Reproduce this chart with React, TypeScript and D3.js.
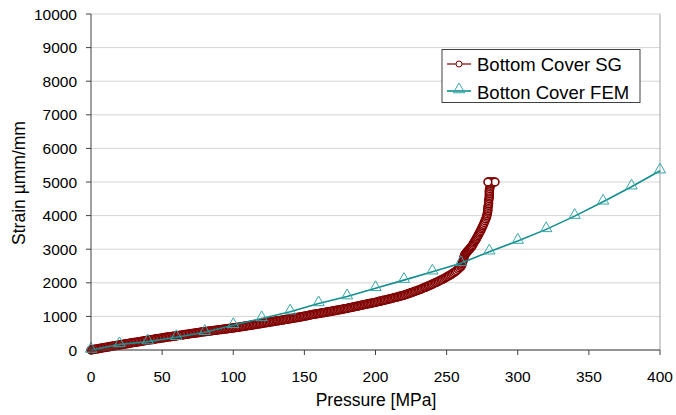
import React from "react";
import * as d3 from "d3";

const xTicks = [0, 50, 100, 150, 200, 250, 300, 350, 400];
const yTicks = [0, 1000, 2000, 3000, 4000, 5000, 6000, 7000, 8000, 9000, 10000];

const femPressure = [0, 20, 40, 60, 80, 100, 120, 140, 160, 180, 200, 220, 240, 260, 280, 300, 320, 340, 360, 380, 400];
const femStrain = [0, 165, 250, 380, 530, 735, 940, 1140, 1385, 1590, 1835, 2080, 2330, 2585, 2925, 3245, 3590, 3985, 4410, 4860, 5335];

// SG readings, loading part (pressure 0..260 MPa, one reading per MPa)
const sgStrainLoading = [
  0, 8, 18, 26, 32, 38, 44, 54, 62, 70, 76, 82, 88, 98, 106, 112, 118, 128, 136, 142,
  150, 157, 162, 172, 180, 184, 190, 200, 208, 216, 222, 226, 232, 242, 250, 254, 260, 270, 278, 285,
  290, 299, 306, 310, 316, 326, 334, 338, 344, 354, 362, 366, 370, 379, 386, 390, 394, 403, 410, 414,
  420, 428, 435, 440, 444, 453, 461, 465, 470, 479, 486, 490, 495, 504, 511, 514, 519, 528, 535, 540,
  545, 552, 558, 561, 565, 573, 580, 583, 587, 595, 602, 605, 609, 617, 624, 627, 631, 639, 646, 650,
  655, 663, 670, 674, 679, 688, 696, 700, 705, 714, 722, 727, 732, 742, 750, 755, 760, 770, 778, 783,
  788, 797, 806, 811, 816, 826, 834, 839, 844, 854, 862, 867, 872, 882, 890, 895, 900, 910, 918, 924,
  930, 939, 947, 952, 958, 968, 977, 982, 988, 998, 1007, 1012, 1019, 1030, 1040, 1052, 1060, 1064, 1070, 1078,
  1084, 1094, 1102, 1107, 1113, 1123, 1132, 1137, 1143, 1153, 1162, 1168, 1174, 1185, 1194, 1200, 1206, 1217, 1226, 1232,
  1238, 1250, 1260, 1267, 1274, 1286, 1296, 1302, 1310, 1322, 1332, 1338, 1346, 1359, 1370, 1375, 1382, 1394, 1404, 1410,
  1418, 1431, 1442, 1449, 1458, 1471, 1482, 1489, 1498, 1511, 1522, 1530, 1540, 1554, 1566, 1574, 1584, 1598, 1610, 1618,
  1628, 1646, 1662, 1674, 1688, 1706, 1722, 1734, 1748, 1766, 1782, 1796, 1812, 1833, 1852, 1866, 1882, 1903, 1922, 1940,
  1958, 1981, 2002, 2019, 2038, 2061, 2082, 2101, 2122, 2148, 2172, 2194, 2218, 2244, 2272, 2298, 2328, 2362, 2402, 2440,
  2480,
];
const sgPressureLoading = sgStrainLoading.map((_, i) => i);

// SG readings, yielding part
const sgPressureYield = [
  260.5, 261, 261.2, 261.5, 261.8, 262, 262.2, 262.5, 262.8, 263, 263.5, 264, 264.5, 265, 265.5, 266, 266.5, 267, 267.5, 268,
  268.5, 269, 269.5, 270, 270.5, 271, 271.5, 272, 272.5, 273, 273.5, 274, 274.5, 275, 275.5, 276, 276.5, 277, 277.5, 278,
  278.3, 278.5, 278.8, 279, 279, 279, 279.3, 279.5, 279.5, 279.5, 279.8, 280, 280, 280, 280, 280, 280.3, 280.5, 280.8, 281,
  281, 280, 282, 283, 284, 279,
];
const sgStrainYield = [
  2520, 2560, 2610, 2650, 2690, 2720, 2760, 2800, 2830, 2850, 2880, 2900, 2930, 2950, 2975, 3000, 3025, 3050, 3075, 3100,
  3140, 3180, 3215, 3250, 3285, 3320, 3360, 3400, 3440, 3480, 3520, 3560, 3605, 3650, 3695, 3740, 3795, 3850, 3900, 3950,
  4000, 4050, 4100, 4150, 4200, 4250, 4300, 4350, 4400, 4450, 4500, 4550, 4600, 4650, 4700, 4750, 4800, 4850, 4900, 4950,
  5000, 5000, 5000, 5000, 5000, 5000,
];

const legendLabels = ["Bottom Cover SG", "Botton Cover FEM"];

const W = 676;
const H = 415;
const left = 91;
const right = 660;
const top = 14;
const bottom = 350;
const font = "'Liberation Sans', Arial, sans-serif";
const sgColor = "#800000";
const femColor = "#118f8f";
const femMarker = "#3AA6A6";

export default function App() {
  const x = d3.scaleLinear().domain([0, 400]).range([left, right]);
  const y = d3.scaleLinear().domain([0, 10000]).range([bottom, top]);

  const sgP = [...sgPressureLoading, ...sgPressureYield];
  const sgS = [...sgStrainLoading, ...sgStrainYield];
  const sg = sgP.map((p, i) => [p, sgS[i]] as [number, number]);
  const fem = femPressure.map((p, i) => [p, femStrain[i]] as [number, number]);
  const line = d3.line<[number, number]>().x((d) => x(d[0])).y((d) => y(d[1]));
  const tri = d3.symbol().type(d3.symbolTriangle).size(55)() as string;

  return (
    <svg width={W} height={H} style={{ position: "absolute", left: 0, top: 0, background: "#fff" }} fontFamily={font}>
      <rect x={0} y={0} width={W} height={H} fill="#fff" />
      {yTicks.map((t) => (
        <line key={"g" + t} x1={left} x2={right} y1={y(t)} y2={y(t)} stroke="#d4d4d4" strokeWidth={1} />
      ))}
      <line x1={right} x2={right} y1={top} y2={bottom} stroke="#a0a0a0" strokeWidth={1} />
      {/* SG */}
      <path d={line(sg) || ""} fill="none" stroke={sgColor} strokeWidth={1.5} />
      {sg.map((d, i) => (
        <circle key={"s" + i} cx={x(d[0])} cy={y(d[1])} r={3.9} fill="#fff" stroke={sgColor} strokeWidth={1.6} />
      ))}
      {/* FEM */}
      <path d={line(fem) || ""} fill="none" stroke={femColor} strokeWidth={1.6} />
      {fem.map((d, i) => (
        <path key={"f" + i} d={tri} transform={`translate(${x(d[0])},${y(d[1]) - 1})`} fill="none" stroke={femMarker} strokeWidth={1} />
      ))}
      {/* axes */}
      <line x1={left} x2={left} y1={top} y2={bottom} stroke="#404040" strokeWidth={1} />
      <line x1={left} x2={right} y1={bottom} y2={bottom} stroke="#404040" strokeWidth={1} />
      {yTicks.map((t) => (
        <g key={"yt" + t}>
          <line x1={left - 5} x2={left} y1={y(t)} y2={y(t)} stroke="#404040" />
          <text x={left - 14} y={y(t) + 5.5} textAnchor="end" fontSize={15.5} fill="#000">
            {t}
          </text>
        </g>
      ))}
      {xTicks.map((t) => (
        <g key={"xt" + t}>
          <line x1={x(t)} x2={x(t)} y1={bottom} y2={bottom + 5} stroke="#404040" />
          <text x={x(t)} y={381.5} textAnchor="middle" fontSize={15.5} fill="#000">
            {t}
          </text>
        </g>
      ))}
      <text x={376} y={406} textAnchor="middle" fontSize={17.5} fill="#000">
        Pressure [MPa]
      </text>
      <text transform={`translate(25,183) rotate(-90)`} textAnchor="middle" fontSize={17.5} fill="#000">
        Strain µmm/mm
      </text>
      {/* legend */}
      <rect x={442} y={49.5} width={198} height={53} fill="#fff" stroke="#404040" strokeWidth={1} />
      <line x1={447} x2={471} y1={64} y2={64} stroke={sgColor} strokeWidth={1.2} />
      <circle cx={459} cy={64} r={3} fill="#fff" stroke={sgColor} strokeWidth={1} />
      <text x={477} y={71} fontSize={18.5} fill="#000">
        {legendLabels[0]}
      </text>
      <line x1={447} x2={471} y1={91} y2={91} stroke={femColor} strokeWidth={1.6} />
      <path d={tri} transform={`translate(459,89.5)`} fill="none" stroke={femMarker} strokeWidth={1} />
      <text x={477} y={98.5} fontSize={18.5} fill="#000">
        {legendLabels[1]}
      </text>
    </svg>
  );
}
